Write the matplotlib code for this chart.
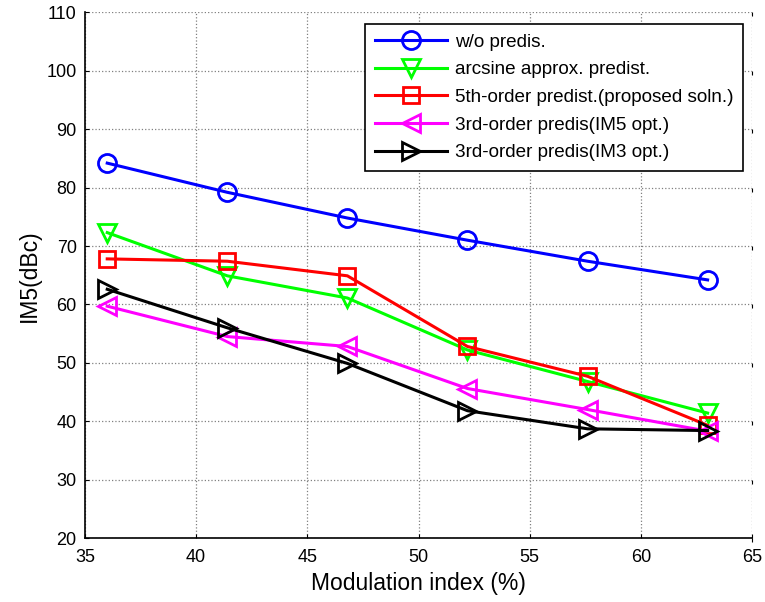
import matplotlib
matplotlib.use("Agg")
import matplotlib.pyplot as plt

plt.rcParams["font.family"] = ["Liberation Sans", "DejaVu Sans"]

mod_index = [36, 41.4, 46.8, 52.2, 57.6, 63]

im5_no_predis = [84.2, 79.2, 74.8, 71.0, 67.4, 64.2]
im5_arcsine = [72.3, 64.9, 61.1, 52.2, 46.8, 41.4]
im5_5th_order = [67.8, 67.4, 64.9, 52.8, 47.7, 39.3]
im5_3rd_im5opt = [59.7, 54.5, 52.8, 45.6, 42.0, 38.3]
im5_3rd_im3opt = [62.6, 56.0, 49.9, 41.8, 38.7, 38.4]

labels = [
    "w/o predis.",
    "arcsine approx. predist.",
    "5th-order predist.(proposed soln.)",
    "3rd-order predis(IM5 opt.)",
    "3rd-order predis(IM3 opt.)",
]

fig = plt.figure(figsize=(7.65, 6.02), dpi=100)
ax = fig.add_axes([0.1111, 0.1063, 0.872, 0.873])

series = [
    (im5_no_predis, "#0000ff", "o"),
    (im5_arcsine, "#00ff00", "v"),
    (im5_5th_order, "#ff0000", "s"),
    (im5_3rd_im5opt, "#ff00ff", "<"),
    (im5_3rd_im3opt, "#000000", ">"),
]
for (vals, color, marker), label in zip(series, labels):
    ax.plot(mod_index, vals, color=color, marker=marker, lw=2.2,
            markersize=13 if marker != "s" else 11,
            markerfacecolor="none", markeredgewidth=2, label=label)

ax.set_xlim(35, 65)
ax.set_ylim(20, 110)
ax.set_xticks(range(35, 66, 5))
ax.set_yticks(range(20, 111, 10))
ax.grid(True, color="#808080", linestyle=":", linewidth=0.9)
ax.spines["top"].set_visible(False)
ax.spines["right"].set_visible(False)
ax.spines["left"].set_linewidth(1.2)
ax.spines["bottom"].set_linewidth(1.2)
ax.tick_params(direction="in", labelsize=13, length=3)
ax.tick_params(axis="x", pad=8)
ax.tick_params(axis="y", pad=6, right=True)
for t in ax.yaxis.get_major_ticks():
    t.tick2line.set_marker(3)
    t.tick2line.set_markersize(3)
ax.set_xlabel("Modulation index (%)", fontsize=16.5, labelpad=4)
ax.set_ylabel("IM5(dBc)", fontsize=16.5, labelpad=4)

leg = ax.legend(loc="upper right", bbox_to_anchor=(0.9865, 0.978),
                borderaxespad=0, fontsize=13.6, handlelength=3.8,
                handletextpad=0.45, fancybox=False, framealpha=1,
                edgecolor="black", labelspacing=0.55, borderpad=0.5)
leg.get_frame().set_linewidth(1.2)

fig.savefig("out.png", dpi=100)
